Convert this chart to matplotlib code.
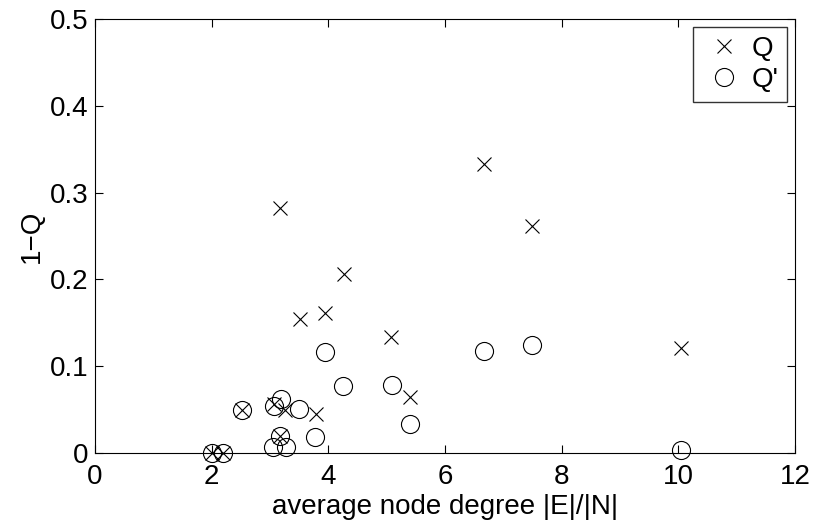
import matplotlib
matplotlib.use("Agg")
import matplotlib.pyplot as plt
from matplotlib.ticker import FuncFormatter

plt.rcParams['font.family'] = ['Liberation Sans', 'DejaVu Sans']

# Q (crosses)
q_x = [2.00, 2.20, 2.52, 3.07, 3.25, 3.17, 3.17, 3.51, 3.79, 3.94, 4.27, 5.07, 5.40, 6.67, 7.49, 10.05]
q_y = [0.000, 0.000, 0.050, 0.056, 0.050, 0.020, 0.282, 0.154, 0.045, 0.161, 0.206, 0.134, 0.065, 0.333, 0.262, 0.121]

# Q' (circles)
qp_x = [2.00, 2.20, 2.52, 3.07, 3.19, 3.17, 3.05, 3.27, 3.50, 3.77, 3.94, 4.25, 5.09, 5.40, 6.67, 7.49, 10.05]
qp_y = [0.000, 0.000, 0.050, 0.054, 0.062, 0.020, 0.007, 0.007, 0.051, 0.018, 0.116, 0.077, 0.078, 0.033, 0.118, 0.124, 0.004]

x_ticks = [0, 2, 4, 6, 8, 10, 12]
y_ticks = [0, 0.1, 0.2, 0.3, 0.4, 0.5]

fig = plt.figure(figsize=(8.16, 5.22), dpi=100)
ax = fig.add_axes([95/816, 1-453/522, 700/816, 434/522])

ax.plot(q_x, q_y, linestyle='none', marker='x', markersize=9.5, markeredgewidth=0.8,
        color='black', label='Q', clip_on=False)
ax.plot(qp_x, qp_y, linestyle='none', marker='o', markersize=13, markeredgewidth=0.8,
        markerfacecolor='none', markeredgecolor='black', label="Q'", clip_on=False)

ax.set_xlim(0, 12)
ax.set_ylim(0, 0.5)
ax.set_xticks(x_ticks)
ax.set_yticks(y_ticks)
ax.xaxis.set_major_formatter(FuncFormatter(lambda v, p: '%g' % v))
ax.yaxis.set_major_formatter(FuncFormatter(lambda v, p: '%g' % v))
ax.tick_params(direction='in', length=6, width=0.8, top=True, right=True, labelsize=20)
ax.tick_params(axis='x', pad=8)
ax.tick_params(axis='y', pad=5)
for s in ax.spines.values():
    s.set_linewidth(0.8)

ax.set_xlabel('average node degree |E|/|N|', fontsize=20, labelpad=3)
ax.set_ylabel('1\u2212Q', fontsize=20, labelpad=3)

leg = ax.legend(loc='upper right', fontsize=20, frameon=True, fancybox=False,
                edgecolor='black', borderaxespad=0.3, handletextpad=0.2,
                handlelength=1.6, borderpad=0.3, labelspacing=0.2)
leg.get_frame().set_linewidth(1.0)

fig.savefig('out.png', dpi=100)
